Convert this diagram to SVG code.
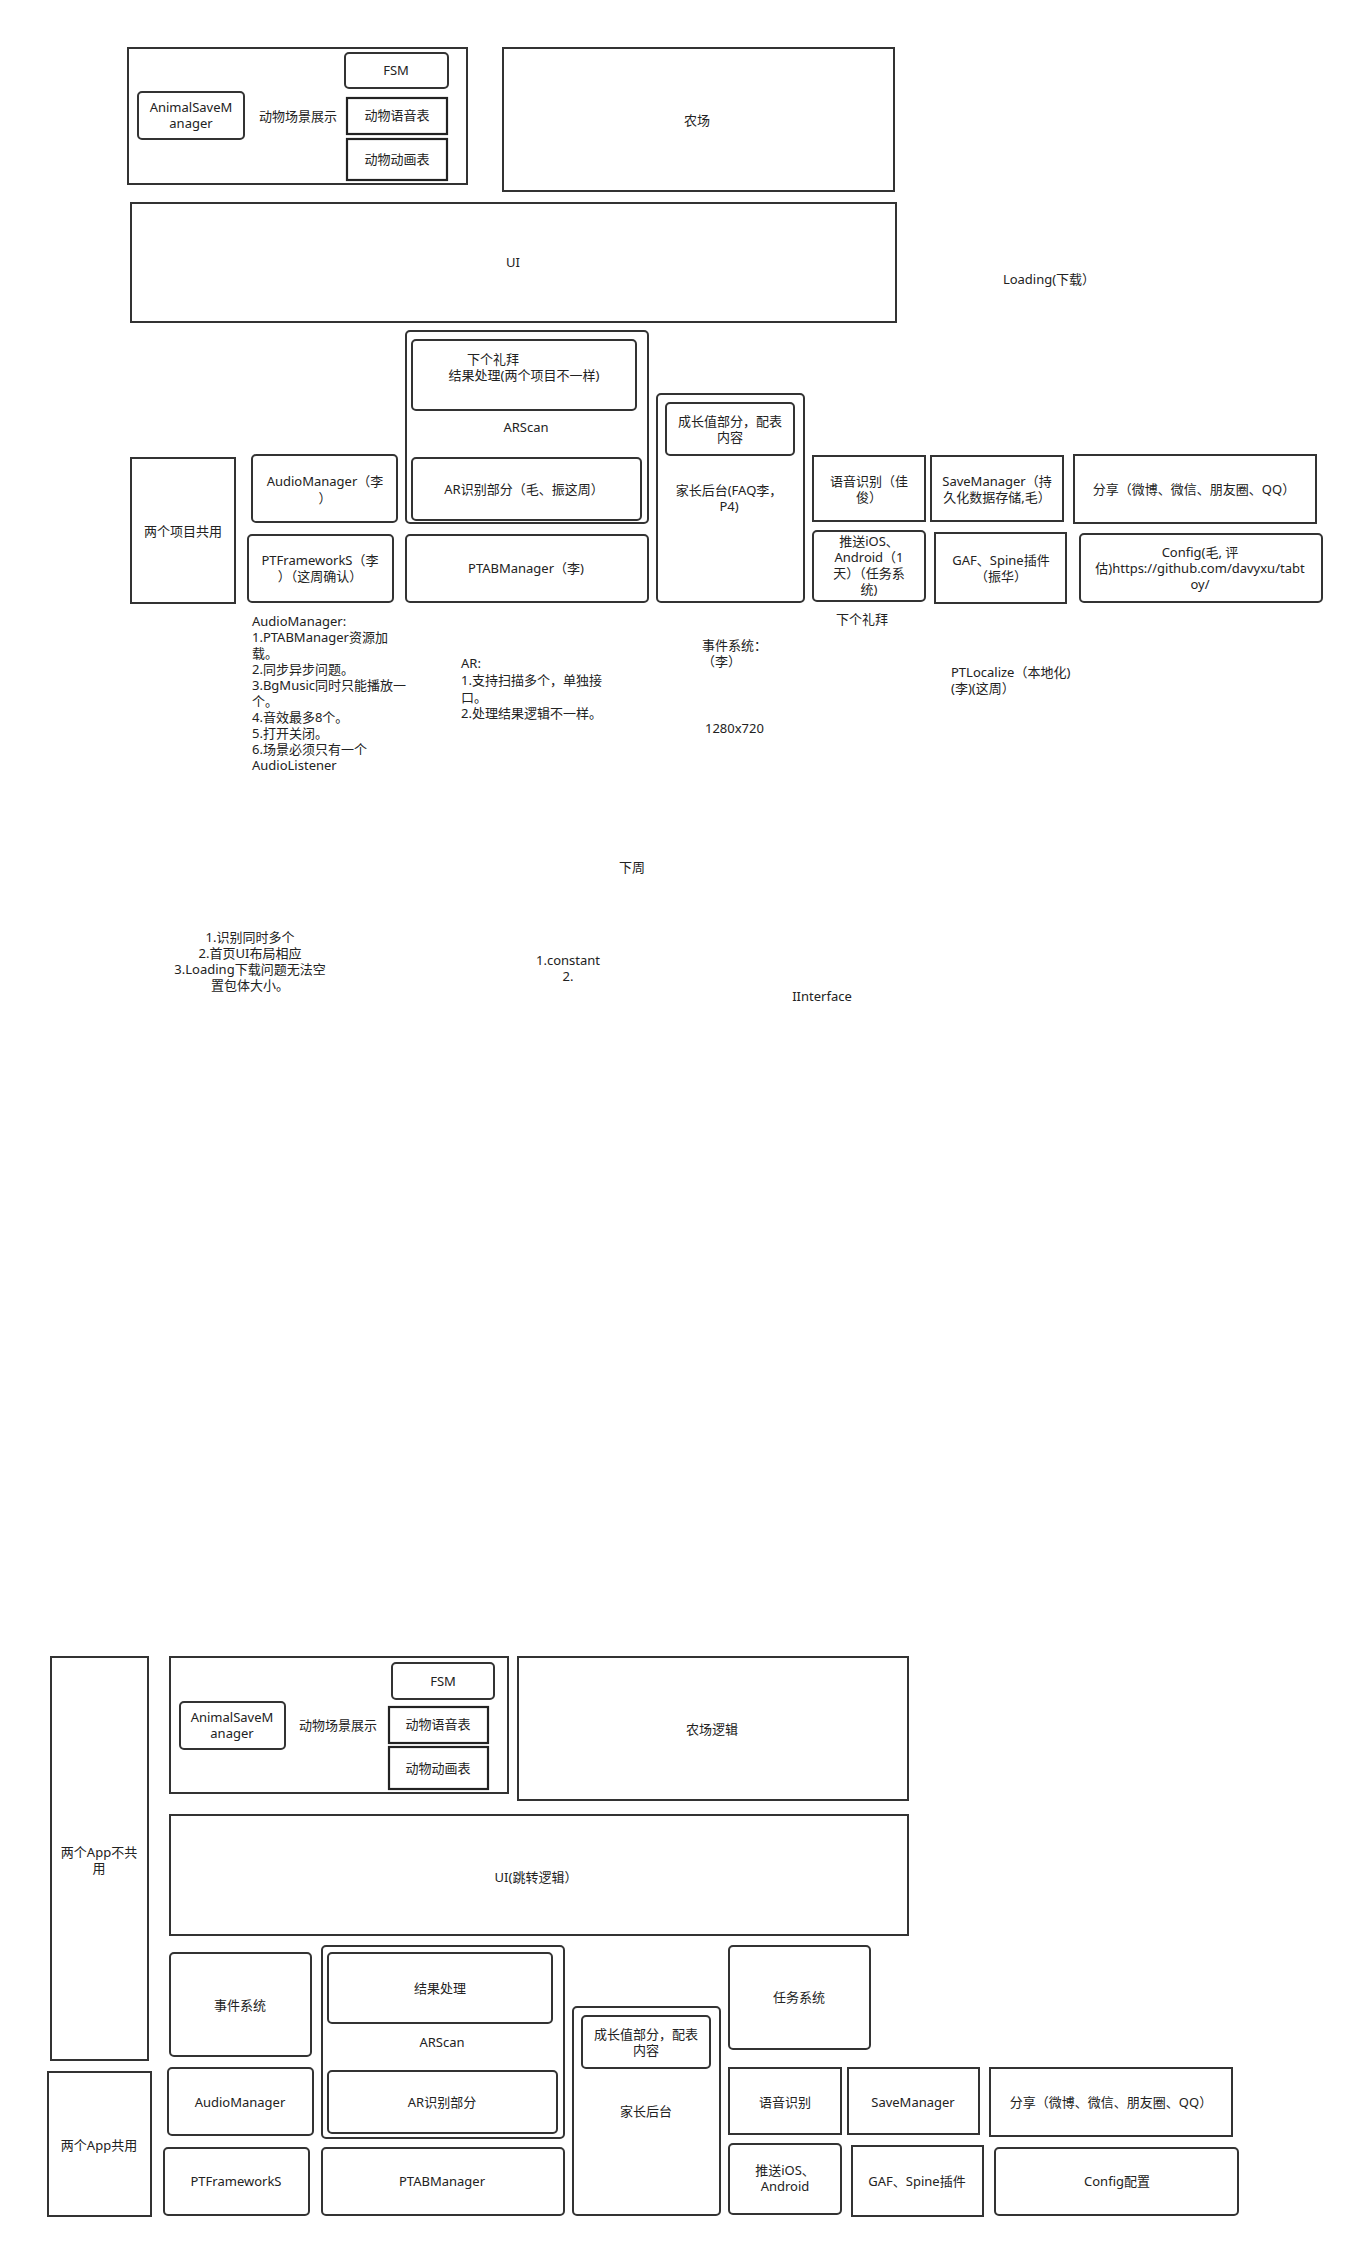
<svg xmlns="http://www.w3.org/2000/svg" width="1353" height="2248" viewBox="0 0 1353 2248">
<style>
text{font-family:"Noto Sans","Noto Sans CJK SC",sans-serif;font-size:13px;fill:#222}
.c{text-anchor:middle}
.b{fill:#fff;stroke:#333;stroke-width:2}
.r{fill:#fff;stroke:#333;stroke-width:2}
.t{fill:#fff;stroke:#222;stroke-width:2.2}
</style>
<rect width="1353" height="2248" fill="#fff"/>
<g id="connectors"></g>

<!-- TOP SECTION -->
<g id="animalScene"><rect class="b" x="128" y="48" width="339" height="136"/><text class="c" x="298" y="121">动物场景展示</text></g>
<g id="fsm"><rect class="r" x="345" y="53" width="103" height="35" rx="4"/><text class="c" x="396" y="75">FSM</text></g>
<g id="animalSave"><rect class="r" x="138" y="92" width="106" height="47" rx="4"/><text class="c" x="191" y="112">AnimalSaveM</text><text class="c" x="191" y="128">anager</text></g>
<g id="animalVoice"><rect class="t" x="347" y="98" width="100" height="36"/><text class="c" x="397" y="120">动物语音表</text></g>
<g id="animalAnim"><rect class="t" x="347" y="139" width="100" height="41"/><text class="c" x="397" y="164">动物动画表</text></g>
<g id="farm"><rect class="b" x="503" y="48" width="391" height="143"/><text class="c" x="697" y="125">农场</text></g>
<g id="ui"><rect class="b" x="131" y="203" width="765" height="119"/><text class="c" x="513" y="267">UI</text></g>
<g id="loading"><text class="c" x="1049" y="284">Loading(下载）</text></g>

<g id="shared"><rect class="b" x="131" y="458" width="104" height="145"/><text class="c" x="183" y="536">两个项目共用</text></g>
<g id="audio"><rect class="r" x="252" y="455" width="145" height="67" rx="4"/><text class="c" x="325" y="486">AudioManager（李</text><text class="c" x="325" y="503">）</text></g>
<g id="ptfw"><rect class="r" x="248" y="535" width="145" height="67" rx="4"/><text class="c" x="320" y="565">PTFrameworkS（李</text><text class="c" x="320" y="581">）（这周确认）</text></g>
<g id="arscan"><rect class="r" x="406" y="331" width="242" height="192" rx="4"/><text class="c" x="526" y="432">ARScan</text></g>
<g id="result"><rect class="r" x="412" y="340" width="224" height="70" rx="4"/><text class="c" x="493" y="364">下个礼拜</text><text class="c" x="524" y="380">结果处理(两个项目不一样)</text></g>
<g id="arrec"><rect class="r" x="412" y="458" width="229" height="62" rx="4"/><text class="c" x="524" y="494">AR识别部分（毛、振这周）</text></g>
<g id="ptab"><rect class="r" x="406" y="535" width="242" height="67" rx="4"/><text class="c" x="526" y="573">PTABManager（李)</text></g>
<g id="parent"><rect class="r" x="657" y="394" width="147" height="208" rx="4"/><text class="c" x="729" y="495">家长后台(FAQ李，</text><text class="c" x="729" y="511">P4)</text></g>
<g id="growth"><rect class="r" x="666" y="403" width="128" height="52" rx="4"/><text class="c" x="730" y="426">成长值部分，配表</text><text class="c" x="730" y="442">内容</text></g>
<g id="voice"><rect class="b" x="813" y="456" width="112" height="65"/><text class="c" x="869" y="486">语音识别（佳</text><text class="c" x="869" y="502">俊）</text></g>
<g id="save"><rect class="b" x="931" y="456" width="132" height="65"/><text class="c" x="997" y="486">SaveManager（持</text><text class="c" x="997" y="502">久化数据存储,毛）</text></g>
<g id="share"><rect class="b" x="1074" y="455" width="242" height="68"/><text class="c" x="1194" y="494">分享（微博、微信、朋友圈、QQ）</text></g>
<g id="push"><rect class="r" x="813" y="531" width="112" height="70" rx="4"/><text class="c" x="869" y="546">推送iOS、</text><text class="c" x="869" y="562">Android（1</text><text class="c" x="869" y="578">天）（任务系</text><text class="c" x="869" y="594">统)</text></g>
<g id="gaf"><rect class="b" x="935" y="533" width="131" height="70"/><text class="c" x="1001" y="565">GAF、Spine插件</text><text class="c" x="1001" y="581">（振华）</text></g>
<g id="config"><rect class="r" x="1080" y="534" width="242" height="68" rx="4"/><text class="c" x="1200" y="557">Config(毛, 评</text><text class="c" x="1200" y="573">估)https://github.com/davyxu/tabt</text><text class="c" x="1200" y="589">oy/</text></g>

<g id="notes">
<text class="c" x="862" y="624">下个礼拜</text>
<text x="702" y="650">事件系统：</text>
<text x="702" y="666">（李）</text>
<text x="951" y="677">PTLocalize（本地化)</text>
<text x="951" y="693">(李)(这周）</text>
<text x="252" y="626">AudioManager:</text>
<text x="252" y="642">1.PTABManager资源加</text>
<text x="252" y="658">载。</text>
<text x="252" y="674">2.同步异步问题。</text>
<text x="252" y="690">3.BgMusic同时只能播放一</text>
<text x="252" y="706">个。</text>
<text x="252" y="722">4.音效最多8个。</text>
<text x="252" y="738">5.打开关闭。</text>
<text x="252" y="754">6.场景必须只有一个</text>
<text x="252" y="770">AudioListener</text>
<text x="461" y="668">AR:</text>
<text x="461" y="685">1.支持扫描多个，单独接</text>
<text x="461" y="702">口。</text>
<text x="461" y="718">2.处理结果逻辑不一样。</text>
<text x="705" y="733">1280x720</text>
<text class="c" x="632" y="872">下周</text>
<text class="c" x="250" y="942">1.识别同时多个</text>
<text class="c" x="250" y="958">2.首页UI布局相应</text>
<text class="c" x="250" y="974">3.Loading下载问题无法空</text>
<text class="c" x="250" y="990">置包体大小。</text>
<text class="c" x="568" y="965">1.constant</text>
<text class="c" x="568" y="981">2.</text>
<text class="c" x="822" y="1001">IInterface</text>
</g>

<!-- BOTTOM SECTION -->
<g id="b-notShared"><rect class="b" x="51" y="1657" width="97" height="403"/><text class="c" x="99" y="1857">两个App不共</text><text class="c" x="99" y="1873">用</text></g>
<g id="b-animalScene"><rect class="b" x="170" y="1657" width="338" height="136"/><text class="c" x="338" y="1730">动物场景展示</text></g>
<g id="b-fsm"><rect class="r" x="392" y="1663" width="102" height="36" rx="4"/><text class="c" x="443" y="1686">FSM</text></g>
<g id="b-animalSave"><rect class="r" x="180" y="1702" width="105" height="47" rx="4"/><text class="c" x="232" y="1722">AnimalSaveM</text><text class="c" x="232" y="1738">anager</text></g>
<g id="b-animalVoice"><rect class="t" x="389" y="1707" width="99" height="36"/><text class="c" x="438" y="1729">动物语音表</text></g>
<g id="b-animalAnim"><rect class="t" x="389" y="1747" width="99" height="42"/><text class="c" x="438" y="1773">动物动画表</text></g>
<g id="b-farm"><rect class="b" x="518" y="1657" width="390" height="143"/><text class="c" x="712" y="1734">农场逻辑</text></g>
<g id="b-ui"><rect class="b" x="170" y="1815" width="738" height="120"/><text class="c" x="536" y="1882">UI(跳转逻辑）</text></g>

<g id="b-event"><rect class="r" x="170" y="1953" width="141" height="103" rx="4"/><text class="c" x="240" y="2010">事件系统</text></g>
<g id="b-arscan"><rect class="r" x="322" y="1946" width="242" height="192" rx="4"/><text class="c" x="442" y="2047">ARScan</text></g>
<g id="b-result"><rect class="r" x="328" y="1953" width="224" height="70" rx="4"/><text class="c" x="440" y="1993">结果处理</text></g>
<g id="b-arrec"><rect class="r" x="328" y="2071" width="229" height="62" rx="4"/><text class="c" x="442" y="2107">AR识别部分</text></g>
<g id="b-shared"><rect class="b" x="48" y="2072" width="103" height="144"/><text class="c" x="99" y="2150">两个App共用</text></g>
<g id="b-audio"><rect class="r" x="168" y="2068" width="145" height="67" rx="4"/><text class="c" x="240" y="2107">AudioManager</text></g>
<g id="b-ptfw"><rect class="r" x="164" y="2148" width="145" height="67" rx="4"/><text class="c" x="236" y="2186">PTFrameworkS</text></g>
<g id="b-ptab"><rect class="r" x="322" y="2148" width="242" height="67" rx="4"/><text class="c" x="442" y="2186">PTABManager</text></g>
<g id="b-parent"><rect class="r" x="573" y="2007" width="147" height="208" rx="4"/><text class="c" x="646" y="2116">家长后台</text></g>
<g id="b-growth"><rect class="r" x="582" y="2016" width="128" height="52" rx="4"/><text class="c" x="646" y="2039">成长值部分，配表</text><text class="c" x="646" y="2055">内容</text></g>
<g id="b-task"><rect class="r" x="729" y="1946" width="141" height="103" rx="4"/><text class="c" x="799" y="2002">任务系统</text></g>
<g id="b-voice"><rect class="b" x="729" y="2068" width="112" height="66"/><text class="c" x="785" y="2107">语音识别</text></g>
<g id="b-save"><rect class="b" x="848" y="2068" width="131" height="66"/><text class="c" x="913" y="2107">SaveManager</text></g>
<g id="b-share"><rect class="b" x="990" y="2068" width="242" height="68"/><text class="c" x="1111" y="2107">分享（微博、微信、朋友圈、QQ）</text></g>
<g id="b-push"><rect class="r" x="729" y="2144" width="112" height="70" rx="4"/><text class="c" x="785" y="2175">推送iOS、</text><text class="c" x="785" y="2191">Android</text></g>
<g id="b-gaf"><rect class="b" x="852" y="2146" width="131" height="70"/><text class="c" x="917" y="2186">GAF、Spine插件</text></g>
<g id="b-config"><rect class="r" x="995" y="2148" width="243" height="67" rx="4"/><text class="c" x="1117" y="2186">Config配置</text></g>
</svg>
